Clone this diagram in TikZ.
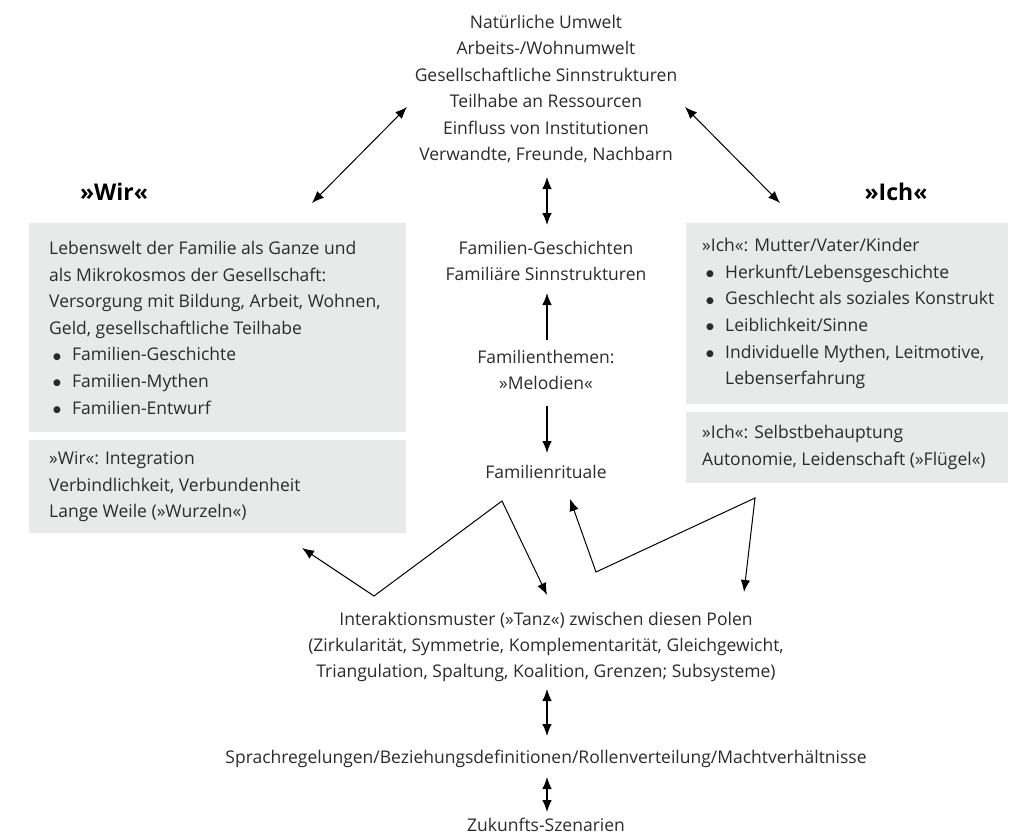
\documentclass[tikz,border=0pt]{standalone}
\usepackage{fontspec}
\setmainfont{Open Sans}
\newfontfamily\symfont{DejaVu Sans}
\usetikzlibrary{arrows.meta}
\definecolor{boxgray}{HTML}{E8E9E9}
\definecolor{txtc}{HTML}{2B2B2B}
\begin{document}
\begin{tikzpicture}[x=1pt,y=-1pt,
  lbl/.style={font=\fontsize{17.5}{26.4}\selectfont, text=txtc, align=center, inner sep=0pt},
  boxtext/.style={font=\fontsize{17.5}{26.6}\selectfont, text=txtc, align=left, inner sep=0pt, anchor=west},
  head/.style={font=\fontsize{23}{26}\selectfont\bfseries, text=black, inner sep=0pt},
  graybox/.style={fill=boxgray, draw=none, anchor=north west, inner sep=0pt},
  arr/.style={line width=1.1pt, -{Latex[length=12pt,width=9.5pt]}},
  darr/.style={line width=1.1pt, {Latex[length=12pt,width=9.5pt]}-{Latex[length=12pt,width=9.5pt]}}
]
\useasboundingbox (0,0) rectangle (1024,837);
\newcommand{\bitem}{\makebox[23pt][l]{\hspace{4pt}{\symfont\fontsize{9}{9}\selectfont\raisebox{1.8pt}{●}}}}

% top text
\node[lbl] (umwelt) at (546,89) {Natürliche Umwelt\\Arbeits-/Wohnumwelt\\Gesellschaftliche Sinnstrukturen\\Teilhabe an Ressourcen\\Einfluss von Institutionen\\Verwandte, Freunde, Nachbarn};

% headings
\node[head] (wir) at (114,192) {»Wir«};
\node[head] (ich) at (896,192) {»Ich«};

% left boxes
\node[graybox, minimum width=377pt, minimum height=209pt] (wirbox) at (29,223) {};
\node[boxtext] (wirtxt) at ([xshift=20pt]wirbox.west) {Lebenswelt der Familie als Ganze und\\als Mikrokosmos der Gesellschaft:\\Versorgung mit Bildung, Arbeit, Wohnen,\\Geld, gesellschaftliche Teilhabe\\\bitem Familien-Geschichte\\\bitem Familien-Mythen\\\bitem Familien-Entwurf};

\node[graybox, minimum width=377pt, minimum height=93pt] (wirbox2) at (29,440) {};
\node[boxtext] (wirtxt2) at ([xshift=20pt]wirbox2.west) {»Wir«: Integration\\Verbindlichkeit, Verbundenheit\\Lange Weile (»Wurzeln«)};

% right boxes
\node[graybox, minimum width=322pt, minimum height=181pt] (ichbox) at (686,223) {};
\node[boxtext] (ichtxt) at ([xshift=16pt]ichbox.west) {»Ich«: Mutter/Vater/Kinder\\\bitem Herkunft/Lebensgeschichte\\\bitem Geschlecht als soziales Konstrukt\\\bitem Leiblichkeit/Sinne\\\bitem Individuelle Mythen, Leitmotive,\\\hspace*{23pt}Lebenserfahrung};

\node[graybox, minimum width=322pt, minimum height=71pt] (ichbox2) at (686,412) {};
\node[boxtext] (ichtxt2) at ([xshift=16pt]ichbox2.west) {»Ich«: Selbstbehauptung\\Autonomie, Leidenschaft (»Flügel«)};

% center column
\node[lbl] (famgesch) at (546,261) {Familien-Geschichten\\Familiäre Sinnstrukturen};
\node[lbl] (famthem) at (546,370) {Familienthemen:\\»Melodien«};
\node[lbl] (famrit) at (546,472) {Familienrituale};
\node[lbl] (tanz) at (546,647) {Interaktionsmuster (»Tanz«) zwischen diesen Polen\\(Zirkularität, Symmetrie, Komplementarität, Gleichgewicht,\\Triangulation, Spaltung, Koalition, Grenzen; Subsysteme)};
\node[lbl] (sprache) at (546,759) {Sprachregelungen/Beziehungsdefinitionen/Rollenverteilung/Machtverhältnisse};
\node[lbl] (zukunft) at (546,825) {Zukunfts-Szenarien};

% connector end points
\coordinate (dA1) at (547,177); \coordinate (dA2) at (547,225);
\coordinate (uA1) at (547,340); \coordinate (uA2) at (547,293);
\coordinate (dB1) at (547,406); \coordinate (dB2) at (547,453);
\coordinate (dC1) at (547,689); \coordinate (dC2) at (547,736);
\coordinate (dD1) at (547,777); \coordinate (dD2) at (547,812);
\coordinate (diagL1) at (407,107); \coordinate (diagL2) at (312,203);
\coordinate (diagR1) at (685,107); \coordinate (diagR2) at (780,203);
\coordinate (zl1) at (302,548); \coordinate (zl2) at (374,596);
\coordinate (zl3) at (502,501); \coordinate (zl4) at (547,595);
\coordinate (zr1) at (570,499); \coordinate (zr2) at (596,572);
\coordinate (zr3) at (755,498); \coordinate (zr4) at (744,592);

% connectors
\draw[darr, line width=1pt] (diagL1) -- (diagL2);
\draw[darr, line width=1pt] (diagR1) -- (diagR2);
\draw[darr] (dA1) -- (dA2);
\draw[arr] (uA1) -- (uA2);
\draw[arr] (dB1) -- (dB2);
\draw[darr] (dC1) -- (dC2);
\draw[darr] (dD1) -- (dD2);
\draw[darr, line width=1pt, line join=miter] (zl1) -- (zl2) -- (zl3) -- (zl4);
\draw[darr, line width=1pt, line join=miter] (zr1) -- (zr2) -- (zr3) -- (zr4);
\end{tikzpicture}
\end{document}
